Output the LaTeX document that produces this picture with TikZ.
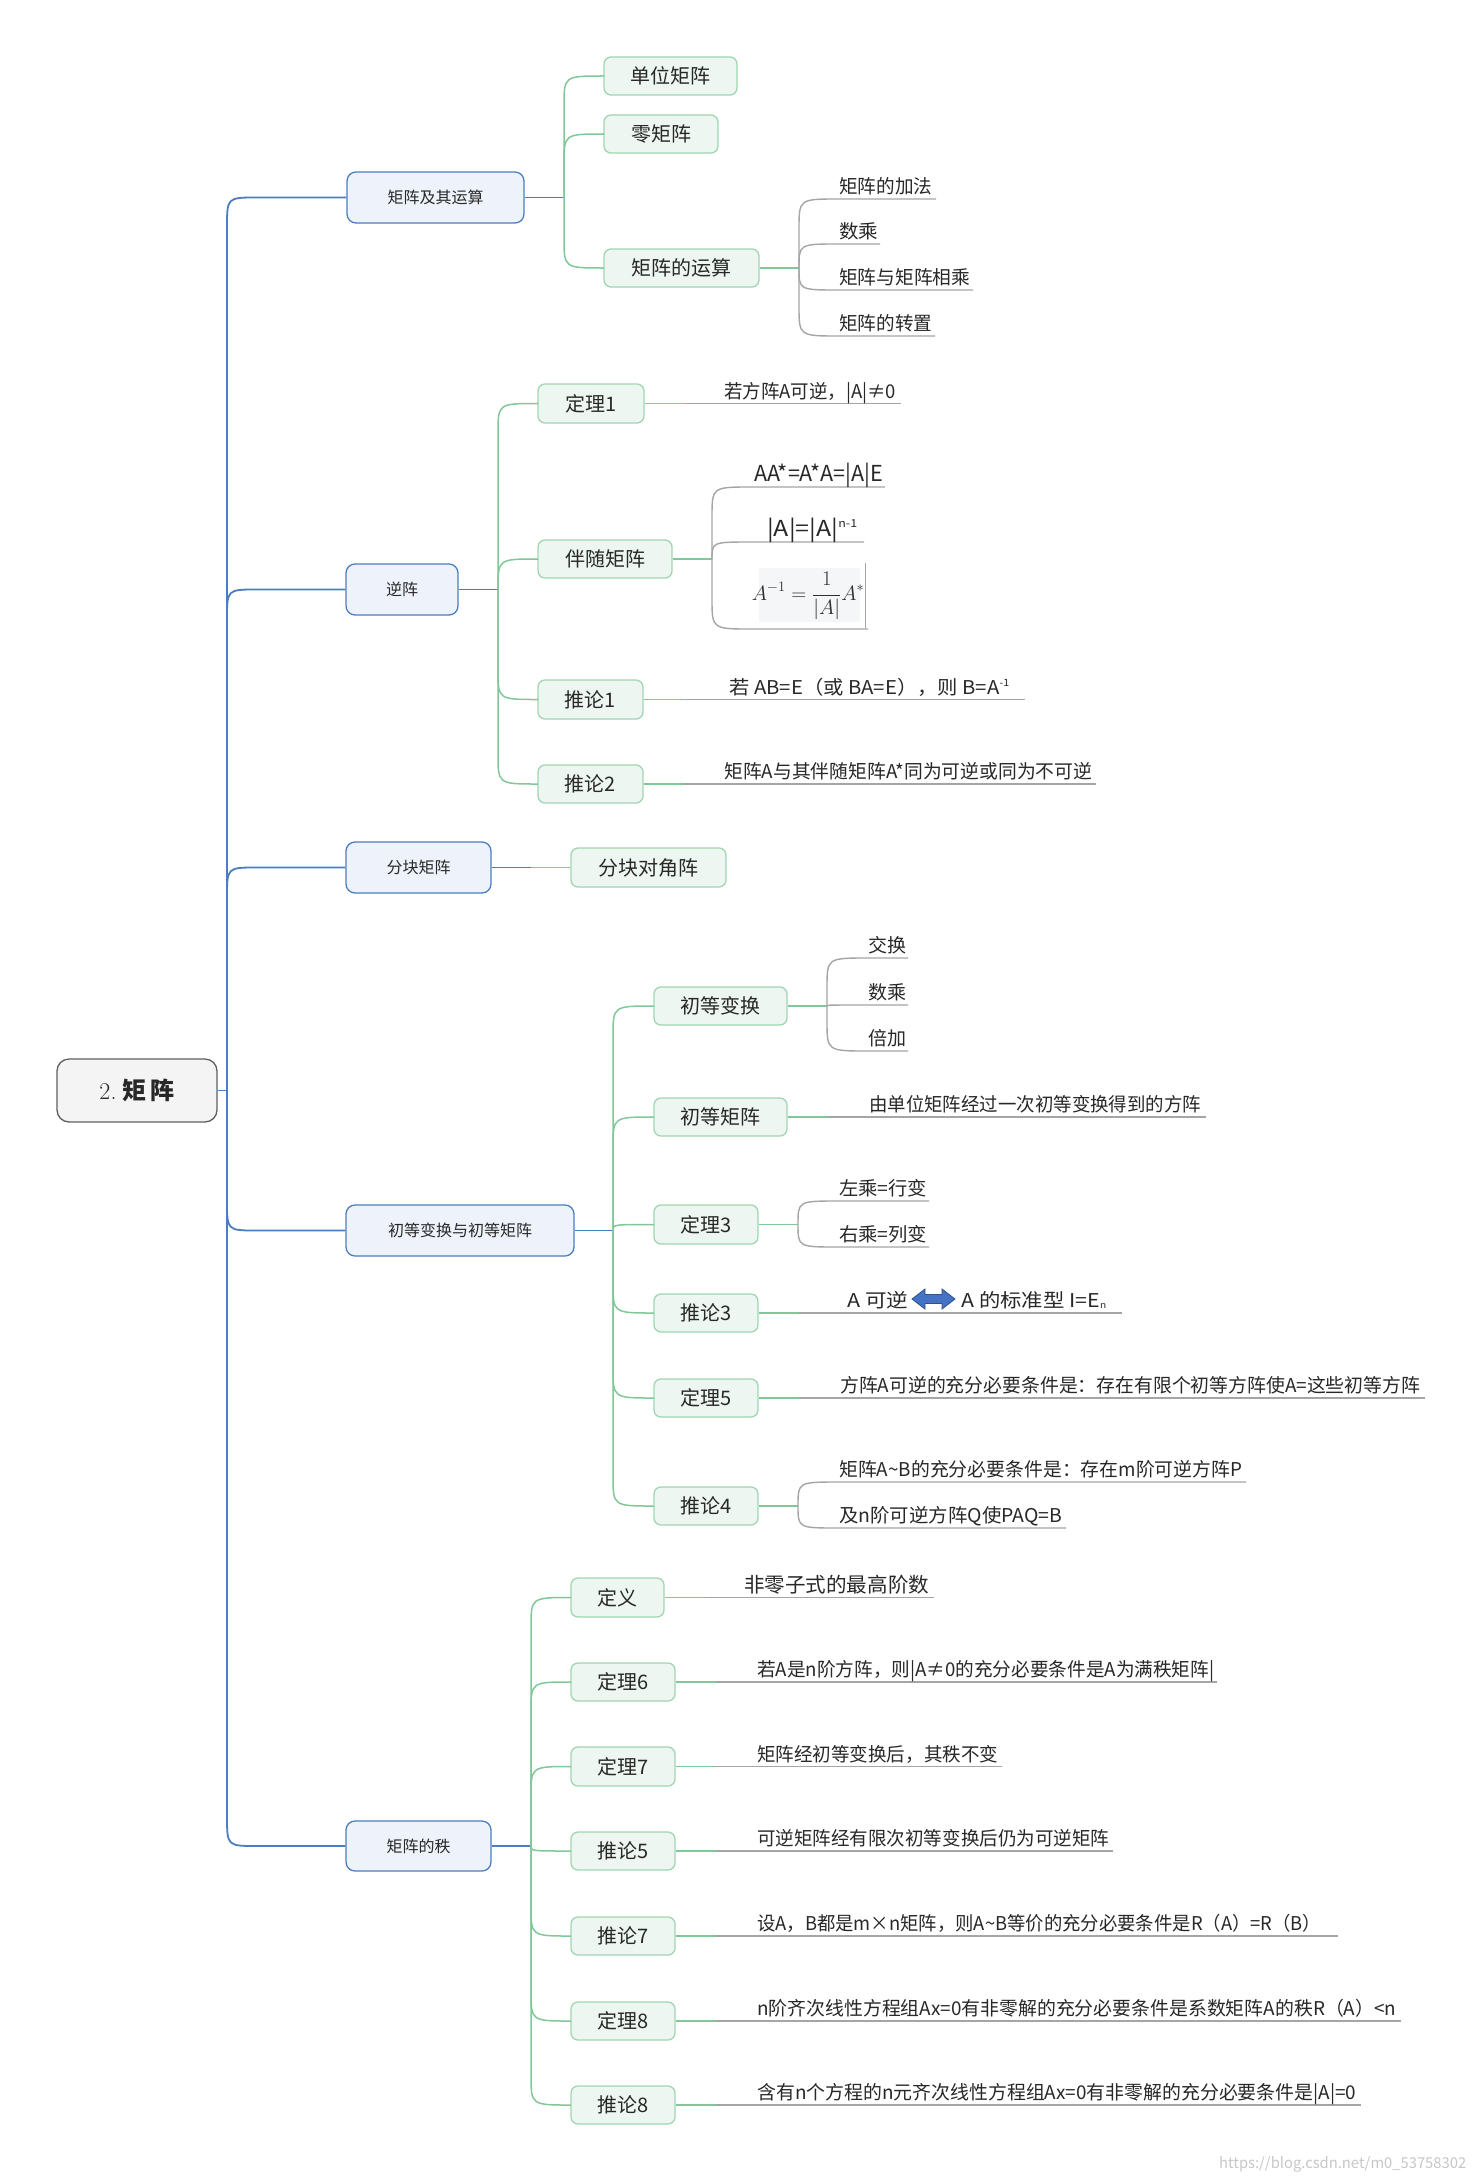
\documentclass[tikz,border=0pt]{standalone}
\usepackage{fontspec}
\usepackage{graphicx}
\newfontfamily\cjk{Noto Sans CJK SC}
\usetikzlibrary{calc}
\definecolor{bl}{RGB}{74,126,193}
\definecolor{blfill}{RGB}{238,243,251}
\definecolor{gr}{RGB}{128,200,152}
\definecolor{grb}{RGB}{160,214,178}
\definecolor{grfill}{RGB}{237,246,240}
\definecolor{lg}{RGB}{165,165,165}
\definecolor{tx}{RGB}{40,40,40}
\definecolor{rootb}{RGB}{95,95,95}
\definecolor{rootf}{RGB}{244,244,244}
\definecolor{formbg}{RGB}{245,246,248}
\definecolor{arrf}{RGB}{68,114,196}
\definecolor{arrd}{RGB}{47,82,143}
\newcommand\conn[4]{\draw[#1] let \p1=(#2), \p2=(#3), \n1={min(30,abs(\y2-\y1))}, \n2={sign(\y2-\y1)} in (\p1) -- (\x1,{\y2-(\n2)*(\n1)}) .. controls (\x1,\y2) .. ({\x1+#4},\y2) -- (\p2);}
\newcommand\lt[2]{\resizebox{#1pt}{\height}{#2}}
\tikzset{
 rootbox/.style={draw=rootb, fill=rootf, line width=1.3pt, rounded corners=12pt, minimum width=160pt, minimum height=63pt, inner sep=0pt, text=tx},
 lonebox/.style={draw=bl, fill=blfill, line width=1.3pt, rounded corners=9pt, minimum height=51pt, inner sep=0pt, font=\cjk\fontsize{16}{16}\selectfont, text=tx},
 ltwobox/.style={draw=grb, fill=grfill, line width=1.3pt, rounded corners=7pt, minimum height=38pt, inner sep=0pt, font=\cjk\fontsize{20}{20}\selectfont, text=tx},
 leaf/.style={anchor=base west, inner sep=0pt, font=\cjk\fontsize{19}{19}\selectfont, text=tx},
 blueline/.style={draw=bl, line width=1.8pt},
 greenline/.style={draw=gr, line width=1.5pt},
 grayline/.style={draw=lg, line width=1.4pt},
}
\begin{document}
\begin{tikzpicture}[x=1pt,y=-1pt]
\fill[white] (0,0) rectangle (1476,2181);
\useasboundingbox (0,0) rectangle (1476,2181);

% root
\node[rootbox] (root) at (137,1090.5) {\fontsize{24}{24}\selectfont 2.\hspace{6pt}{\cjk\bfseries 矩\hspace{4pt}阵}};

% level 1
\node[lonebox,minimum width=177pt] (L1a) at (435.5,197.5) {矩阵及其运算};
\node[lonebox,minimum width=112pt] (L1b) at (402,589.5) {逆阵};
\node[lonebox,minimum width=145pt] (L1c) at (418.5,867.5) {分块矩阵};
\node[lonebox,minimum width=228pt] (L1d) at (460,1230.5) {初等变换与初等矩阵};
\node[lonebox,minimum width=145pt,minimum height=50pt] (L1e) at (418.5,1846) {矩阵的秩};

% level 2
\node[ltwobox,minimum width=133pt] (A1) at (670.5,76) {单位矩阵};
\node[ltwobox,minimum width=114pt] (A2) at (661,134) {零矩阵};
\node[ltwobox,minimum width=155pt] (A3) at (681.5,268) {矩阵的运算};
\node[ltwobox,minimum width=106pt,minimum height=39pt] (B1) at (591,403.5) {定理1};
\node[ltwobox,minimum width=134pt] (B2) at (605,559) {伴随矩阵};
\node[ltwobox,minimum width=105pt,minimum height=39pt] (B3) at (590.5,699.5) {推论1};
\node[ltwobox,minimum width=105pt] (B4) at (590.5,784) {推论2};
\node[ltwobox,minimum width=155pt,minimum height=39pt] (C1) at (648.5,867.5) {分块对角阵};
\node[ltwobox,minimum width=133pt] (D1) at (720.5,1006) {初等变换};
\node[ltwobox,minimum width=133pt] (D2) at (720.5,1117) {初等矩阵};
\node[ltwobox,minimum width=104pt,minimum height=39pt] (D3) at (706,1224.5) {定理3};
\node[ltwobox,minimum width=104pt] (D4) at (706,1313) {推论3};
\node[ltwobox,minimum width=104pt] (D5) at (706,1398) {定理5};
\node[ltwobox,minimum width=104pt] (D6) at (706,1506) {推论4};
\node[ltwobox,minimum width=93pt,minimum height=39pt] (E1) at (617.5,1597.5) {定义};
\node[ltwobox,minimum width=104pt] (E2) at (623,1682) {定理6};
\node[ltwobox,minimum width=104pt,minimum height=39pt] (E3) at (623,1766.5) {定理7};
\node[ltwobox,minimum width=104pt] (E4) at (623,1851) {推论5};
\node[ltwobox,minimum width=104pt] (E5) at (623,1936) {推论7};
\node[ltwobox,minimum width=104pt] (E6) at (623,2021) {定理8};
\node[ltwobox,minimum width=104pt] (E7) at (623,2105) {推论8};

% blue trunk
\coordinate (T0) at (227,1090.5);
\draw[blueline] (root.east) -- (T0);
\conn{blueline}{T0}{L1a.west}{30}
\conn{blueline}{T0}{L1b.west}{30}
\conn{blueline}{T0}{L1c.west}{30}
\conn{blueline}{T0}{L1d.west}{30}
\conn{blueline}{T0}{L1e.west}{30}

% group a
\coordinate (Ga) at (564,197.5);
\draw[blueline] (L1a.east) -- (Ga);
\conn{greenline}{Ga}{A1.west}{40}
\conn{greenline}{Ga}{A2.west}{40}
\conn{greenline}{Ga}{A3.west}{40}
% group b
\coordinate (Gb) at (498,589.5);
\draw[blueline] (L1b.east) -- (Gb);
\conn{greenline}{Gb}{B1.west}{40}
\conn{greenline}{Gb}{B2.west}{40}
\conn{greenline}{Gb}{B3.west}{40}
\conn{greenline}{Gb}{B4.west}{40}
% group c
\coordinate (Gc) at (531,867.5);
\draw[blueline] (L1c.east) -- (Gc);
\draw[greenline] (Gc) -- (C1.west);
% group d
\coordinate (Gd) at (613,1230.5);
\draw[blueline] (L1d.east) -- (Gd);
\conn{greenline}{Gd}{D1.west}{41}
\conn{greenline}{Gd}{D2.west}{41}
\conn{greenline}{Gd}{D3.west}{41}
\conn{greenline}{Gd}{D4.west}{41}
\conn{greenline}{Gd}{D5.west}{41}
\conn{greenline}{Gd}{D6.west}{41}
% group e
\coordinate (Ge) at (531,1846);
\draw[blueline] (L1e.east) -- (Ge);
\conn{greenline}{Ge}{E1.west}{40}
\conn{greenline}{Ge}{E2.west}{40}
\conn{greenline}{Ge}{E3.west}{40}
\conn{greenline}{Ge}{E4.west}{40}
\conn{greenline}{Ge}{E5.west}{40}
\conn{greenline}{Ge}{E6.west}{40}
\conn{greenline}{Ge}{E7.west}{40}

% ---- leaves of 矩阵的运算
\coordinate (Ba) at (799,268);
\draw[greenline] (A3.east) -- (Ba);
\coordinate (a1e) at (936,199);
\coordinate (a2e) at (880,244);
\coordinate (a3e) at (973,290);
\coordinate (a4e) at (935,336);
\conn{grayline}{Ba}{a1e}{40}
\conn{grayline}{Ba}{a2e}{40}
\conn{grayline}{Ba}{a3e}{40}
\conn{grayline}{Ba}{a4e}{40}
\node[leaf] (a1) at (839,193.5) {\lt{93}{矩阵的加法}};
\node[leaf] (a2) at (839,238.5) {\lt{39}{数乘}};
\node[leaf] (a3) at (839,284.5) {\lt{131}{矩阵与矩阵相乘}};
\node[leaf] (a4) at (839,330.5) {\lt{93}{矩阵的转置}};

% ---- 定理1
\draw[greenline] (B1.east) -- ++(40,0) coordinate (b1m);
\draw[grayline] (b1m) -- ++(216,0);
\node[leaf] (b1) at (724,398) {\lt{172}{若方阵A可逆，|A|≠0}};

% ---- 伴随矩阵
\coordinate (Bb) at (712,559);
\draw[greenline] (B2.east) -- (Bb);
\coordinate (b21e) at (885,487);
\coordinate (b22e) at (864,542);
\coordinate (b23e) at (868,629);
\conn{grayline}{Bb}{b21e}{40}
\conn{grayline}{Bb}{b22e}{40}
\conn{grayline}{Bb}{b23e}{40}
\node[leaf,font=\cjk\fontsize{22}{22}\selectfont] (b21) at (754,481.5) {\lt{129}{AA*=A*A=|A|E}};
\node[leaf,font=\cjk\fontsize{22}{22}\selectfont] (b22) at (767,536.5) {\lt{90}{|A|=|A|\raisebox{9pt}{\fontsize{11}{11}\selectfont n-1}}};
\fill[formbg] (759,568) rectangle (860,622);
\draw[lg,line width=1pt] (865,563) -- (865,628);
\node[inner sep=0pt,text={rgb,255:red,45;green,45;blue,50}] (b23) at (808,596) {\fontsize{20}{20}\selectfont$\displaystyle A^{-1}=\frac{1}{|A|}A^{*}$};

% ---- 推论1, 推论2
\draw[greenline] (B3.east) -- ++(40,0) coordinate (b3m);
\draw[grayline] (b3m) -- ++(341,0);
\node[leaf] (b3) at (729,694) {\lt{280}{若 AB=E（或 BA=E），则 B=A\raisebox{8pt}{\fontsize{10}{10}\selectfont -1}}};
\draw[greenline] (B4.east) -- ++(40,0) coordinate (b4m);
\draw[grayline] (b4m) -- ++(412,0);
\node[leaf] (b4) at (724,778.5) {\lt{368}{矩阵A与其伴随矩阵A*同为可逆或同为不可逆}};

% ---- 初等变换
\coordinate (Bd1) at (827,1006);
\draw[greenline] (D1.east) -- (Bd1);
\coordinate (d11e) at (908,958);
\coordinate (d12e) at (908,1005);
\coordinate (d13e) at (908,1051);
\conn{grayline}{Bd1}{d11e}{41}
\conn{grayline}{Bd1}{d12e}{41}
\conn{grayline}{Bd1}{d13e}{41}
\node[leaf] (d11) at (868,952.5) {\lt{38}{交换}};
\node[leaf] (d12) at (868,999.5) {\lt{38}{数乘}};
\node[leaf] (d13) at (868,1045.5) {\lt{38}{倍加}};

% ---- 初等矩阵
\draw[greenline] (D2.east) -- ++(40,0) coordinate (d2m);
\draw[grayline] (d2m) -- ++(378,0);
\node[leaf] (d2) at (869,1111.5) {\lt{332}{由单位矩阵经过一次初等变换得到的方阵}};

% ---- 定理3
\coordinate (Bd3) at (798,1224.5);
\draw[greenline] (D3.east) -- (Bd3);
\coordinate (d31e) at (929,1201);
\coordinate (d32e) at (929,1247);
\conn{grayline}{Bd3}{d31e}{41}
\conn{grayline}{Bd3}{d32e}{41}
\node[leaf] (d31) at (839,1195.5) {\lt{88}{左乘=行变}};
\node[leaf] (d32) at (839,1241.5) {\lt{88}{右乘=列变}};

% ---- 推论3
\draw[greenline] (D4.east) -- ++(40,0) coordinate (d4m);
\draw[grayline] (d4m) -- ++(323,0);
\node[leaf] (d4a) at (847,1307.5) {\lt{61}{A\ 可逆}};
\filldraw[fill=arrf,draw=arrd,line width=0.8pt] (912,1299) -- (925,1289) -- (925,1294.5) -- (942,1294.5) -- (942,1289) -- (955,1299) -- (942,1309) -- (942,1303.5) -- (925,1303.5) -- (925,1309) -- cycle;
\node[leaf] (d4b) at (961,1307.5) {\lt{145}{A\ 的标准型\ I=E\raisebox{-1pt}{\fontsize{9}{9}\selectfont n}}};

% ---- 定理5
\draw[greenline] (D5.east) -- ++(40,0) coordinate (d5m);
\draw[grayline] (d5m) -- ++(626,0);
\node[leaf] (d5) at (840,1392.5) {\lt{580}{方阵A可逆的充分必要条件是：存在有限个初等方阵使A=这些初等方阵}};

% ---- 推论4
\coordinate (Bd6) at (798,1506);
\draw[greenline] (D6.east) -- (Bd6);
\coordinate (d61e) at (1246,1482);
\coordinate (d62e) at (1066,1528);
\conn{grayline}{Bd6}{d61e}{41}
\conn{grayline}{Bd6}{d62e}{41}
\node[leaf] (d61) at (839,1476.5) {\lt{403}{矩阵A\textasciitilde B的充分必要条件是：存在m阶可逆方阵P}};
\node[leaf] (d62) at (839,1522.5) {\lt{223}{及n阶可逆方阵Q使PAQ=B}};

% ---- 矩阵的秩 leaves
\draw[greenline] (E1.east) -- ++(40,0) coordinate (e1m);
\draw[grayline] (e1m) -- ++(229,0);
\node[leaf,font=\cjk\fontsize{20.5}{20.5}\selectfont] (e1) at (744,1592) {\lt{185}{非零子式的最高阶数}};
\draw[greenline] (E2.east) -- ++(40,0) coordinate (e2m);
\draw[grayline] (e2m) -- ++(501,0);
\node[leaf] (e2) at (757,1676.5) {\lt{457}{若A是n阶方阵，则|A≠0的充分必要条件是A为满秩矩阵|}};
\draw[greenline] (E3.east) -- ++(40,0) coordinate (e3m);
\draw[grayline] (e3m) -- ++(286,0);
\node[leaf] (e3) at (757,1761) {\lt{241}{矩阵经初等变换后，其秩不变}};
\draw[greenline] (E4.east) -- ++(40,0) coordinate (e4m);
\draw[grayline] (e4m) -- ++(397,0);
\node[leaf] (e4) at (757,1845.5) {\lt{352}{可逆矩阵经有限次初等变换后仍为可逆矩阵}};
\draw[greenline] (E5.east) -- ++(40,0) coordinate (e5m);
\draw[grayline] (e5m) -- ++(622,0);
\node[leaf] (e5) at (757,1930.5) {\lt{564}{设A，B都是m×n矩阵，则A\textasciitilde B等价的充分必要条件是R（A）=R（B）}};
\draw[greenline] (E6.east) -- ++(40,0) coordinate (e6m);
\draw[grayline] (e6m) -- ++(685,0);
\node[leaf] (e6) at (757,2015.5) {\lt{639}{n阶齐次线性方程组Ax=0有非零解的充分必要条件是系数矩阵A的秩R（A）<n}};
\draw[greenline] (E7.east) -- ++(40,0) coordinate (e7m);
\draw[grayline] (e7m) -- ++(645,0);
\node[leaf] (e7) at (757,2099.5) {\lt{599}{含有n个方程的n元齐次线性方程组Ax=0有非零解的充分必要条件是|A|=0}};

% watermark
\node[anchor=base west,inner sep=0pt,text=black!22,font=\cjk\fontsize{15}{15}\selectfont] (wm) at (1219,2168) {\lt{247}{https://blog.csdn.net/m0\_53758302}};
\end{tikzpicture}
\end{document}
